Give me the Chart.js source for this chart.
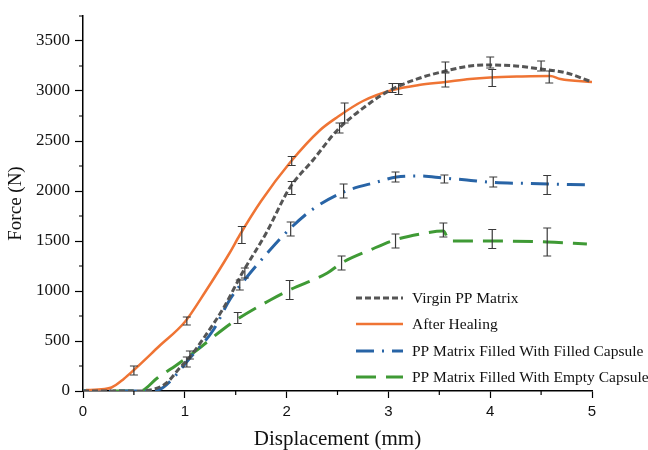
<!DOCTYPE html>
<html>
<head>
<meta charset="utf-8">
<title>Force vs Displacement</title>
<script src="https://cdn.jsdelivr.net/npm/chart.js@4.4.1/dist/chart.umd.min.js"></script>
<style>
  body { margin: 0; background: #fff; }
  canvas { display: block; }
</style>
</head>
<body>
<canvas id="forceChart" width="648" height="450"></canvas>
<script>
// curves: displacement (mm) -> force (N)
const virginX = [0, 0.55, 0.7, 0.82, 0.95, 1.05, 1.2, 1.38, 1.57, 1.8, 2.03, 2.26, 2.5, 2.82, 3.04, 3.31, 3.56, 3.8, 4.0, 4.25, 4.5, 4.75, 5.0];
const virginY = [0, 0, 20, 80, 230, 340, 550, 830, 1190, 1580, 2030, 2310, 2610, 2880, 3020, 3130, 3200, 3250, 3260, 3250, 3220, 3180, 3090];

const healedX = [0.03, 0.15, 0.28, 0.4, 0.5, 0.75, 1.0, 1.2, 1.44, 1.54, 1.75, 2.03, 2.33, 2.5, 2.75, 3.04, 3.3, 3.56, 3.8, 4.0, 4.3, 4.59, 4.69, 5.0];
const healedY = [10, 15, 35, 120, 210, 450, 690, 990, 1380, 1560, 1900, 2280, 2610, 2740, 2900, 3010, 3060, 3090, 3120, 3135, 3145, 3150, 3120, 3090];

const filledCapX = [0, 0.6, 0.76, 0.85, 1.05, 1.28, 1.44, 1.61, 1.82, 2.03, 2.26, 2.56, 2.89, 3.08, 3.31, 3.54, 3.77, 4.03, 4.39, 4.78, 5.0];
const filledCapY = [0, 0, 20, 90, 330, 610, 910, 1140, 1390, 1620, 1820, 1990, 2090, 2140, 2150, 2130, 2110, 2085, 2075, 2065, 2060];

const emptyCapX = [0, 0.56, 0.73, 0.92, 1.12, 1.38, 1.52, 1.84, 2.03, 2.4, 2.54, 2.82, 3.06, 3.31, 3.54, 3.6, 3.8, 4.03, 4.56, 4.95];
const emptyCapY = [0, 0, 130, 260, 410, 620, 720, 910, 1010, 1180, 1280, 1410, 1510, 1570, 1600, 1500, 1500, 1500, 1490, 1470];

// error bars (all series): position, centre, half height
const errX = [0.5, 1.02, 1.56, 2.05, 2.57, 3.1, 3.56, 4.02, 4.58,
              1.02, 1.59, 2.05, 2.52, 3.04, 3.56, 4.0, 4.5,
              1.05, 1.54, 2.04, 2.56, 3.07, 3.55, 4.03, 4.56,
              1.52, 2.03, 2.54, 3.07, 3.54, 4.02, 4.56];
const errMid = [205, 700, 1560, 2300, 2780, 3020, 3110, 3130, 3140,
                290, 1180, 2030, 2630, 3030, 3240, 3285, 3250,
                360, 1060, 1620, 2000, 2140, 2120, 2090, 2060,
                730, 1010, 1280, 1500, 1610, 1520, 1490];
const errHalf = [45, 40, 85, 45, 100, 55, 70, 85, 60,
                 50, 50, 65, 50, 45, 50, 55, 50,
                 40, 50, 70, 70, 50, 40, 50, 95,
                 55, 95, 70, 70, 70, 95, 140];

const xTicks = [0, 1, 2, 3, 4, 5];
const yTicks = [0, 500, 1000, 1500, 2000, 2500, 3000, 3500];
const xMinorTicks = [0.5, 1.5, 2.5, 3.5, 4.5];
const yMinorTicks = [250, 750, 1250, 1750, 2250, 2750, 3250, 3750];

const labels = ['Virgin PP Matrix', 'After Healing', 'PP Matrix Filled With Filled Capsule', 'PP Matrix Filled With Empty Capsule'];

function toPoints(xs, ys) {
    return xs.map((x, i) => ({ x: x, y: ys[i] }));
}

const errorBars = {
    id: 'errorBars',
    afterDatasetsDraw(chart) {
        const ctx = chart.ctx;
        const xs = chart.scales.x, ys = chart.scales.y;
        ctx.save();
        ctx.strokeStyle = '#3a3a3a';
        ctx.lineWidth = 1.2;
        errX.forEach((x, i) => {
            const px = xs.getPixelForValue(x);
            const top = ys.getPixelForValue(errMid[i] + errHalf[i]);
            const bot = ys.getPixelForValue(errMid[i] - errHalf[i]);
            ctx.beginPath();
            ctx.moveTo(px, top); ctx.lineTo(px, bot);
            ctx.moveTo(px - 4, top); ctx.lineTo(px + 4, top);
            ctx.moveTo(px - 4, bot); ctx.lineTo(px + 4, bot);
            ctx.stroke();
        });
        ctx.restore();
    }
};

const minorTicks = {
    id: 'minorTicks',
    afterDraw(chart) {
        const ctx = chart.ctx;
        const xs = chart.scales.x, ys = chart.scales.y;
        const area = chart.chartArea;
        ctx.save();
        ctx.strokeStyle = '#000';
        ctx.lineWidth = 1.2;
        ctx.beginPath();
        xMinorTicks.forEach(v => {
            const px = xs.getPixelForValue(v);
            ctx.moveTo(px, area.bottom); ctx.lineTo(px, area.bottom + 4);
        });
        yMinorTicks.forEach(v => {
            const py = ys.getPixelForValue(v);
            ctx.moveTo(area.left, py); ctx.lineTo(area.left - 4, py);
        });
        ctx.stroke();
        ctx.restore();
    }
};

// legend sits inside the plot, lower right
const innerLegend = {
    id: 'innerLegend',
    afterDraw(chart) {
        const ctx = chart.ctx;
        const rowY = [298, 324, 351, 377];
        ctx.save();
        ctx.font = '15.5px "Liberation Serif"';
        ctx.textBaseline = 'middle';
        ctx.fillStyle = '#111';
        chart.data.datasets.forEach((ds, i) => {
            ctx.strokeStyle = ds.borderColor;
            ctx.lineWidth = ds.borderWidth;
            ctx.setLineDash(ds.borderDash || []);
            ctx.beginPath();
            ctx.moveTo(356, rowY[i]);
            ctx.lineTo(403, rowY[i]);
            ctx.stroke();
            ctx.setLineDash([]);
            ctx.fillText(ds.label, 412, rowY[i] + 1);
        });
        ctx.restore();
    }
};

new Chart(document.getElementById('forceChart'), {
    type: 'line',
    data: {
        datasets: [
            {
                label: labels[0],
                data: toPoints(virginX, virginY),
                borderColor: '#555555',
                borderWidth: 3,
                borderDash: [6, 3]
            },
            {
                label: labels[1],
                data: toPoints(healedX, healedY),
                borderColor: '#ef7434',
                borderWidth: 2.5
            },
            {
                label: labels[2],
                data: toPoints(filledCapX, filledCapY),
                borderColor: '#2864a6',
                borderWidth: 3,
                borderDash: [18, 8, 2, 8]
            },
            {
                label: labels[3],
                data: toPoints(emptyCapX, emptyCapY),
                borderColor: '#3f9a35',
                borderWidth: 3,
                borderDash: [20, 10]
            }
        ]
    },
    options: {
        responsive: false,
        animation: false,
        layout: { padding: { left: 0, right: 56, top: 16, bottom: 0 } },
        elements: {
            point: { radius: 0 },
            line: { cubicInterpolationMode: 'monotone', fill: false }
        },
        plugins: {
            legend: { display: false },
            tooltip: { enabled: false }
        },
        scales: {
            x: {
                type: 'linear',
                min: 0,
                max: 5,
                afterBuildTicks: s => { s.ticks = xTicks.map(v => ({ value: v })); },
                afterFit: s => { s.height = 59; },
                ticks: {
                    padding: 5,
                    color: '#111',
                    callback: v => String(v),
                    font: { family: 'Liberation Sans', size: 15 }
                },
                grid: { drawOnChartArea: false, tickLength: 7, color: '#000', tickWidth: 1.2 },
                border: { color: '#000', width: 1.5 },
                title: {
                    display: true,
                    text: 'Displacement (mm)',
                    color: '#111',
                    font: { family: 'Liberation Serif', size: 21, lineHeight: 1 },
                    padding: { top: 0, bottom: 0 }
                }
            },
            y: {
                min: 0,
                max: 3750,
                afterBuildTicks: s => { s.ticks = yTicks.map(v => ({ value: v })); },
                afterFit: s => { s.width = 83; },
                ticks: {
                    padding: 5,
                    color: '#111',
                    callback: v => String(v),
                    font: { family: 'Liberation Serif', size: 17 }
                },
                grid: { drawOnChartArea: false, tickLength: 8, color: '#000', tickWidth: 1.2 },
                border: { color: '#000', width: 1.5 },
                title: {
                    display: true,
                    text: 'Force (N)',
                    color: '#111',
                    font: { family: 'Liberation Serif', size: 19, lineHeight: 1.2 },
                    padding: { top: 5, bottom: 0 }
                }
            }
        }
    },
    plugins: [errorBars, minorTicks, innerLegend]
});
</script>
</body>
</html>
